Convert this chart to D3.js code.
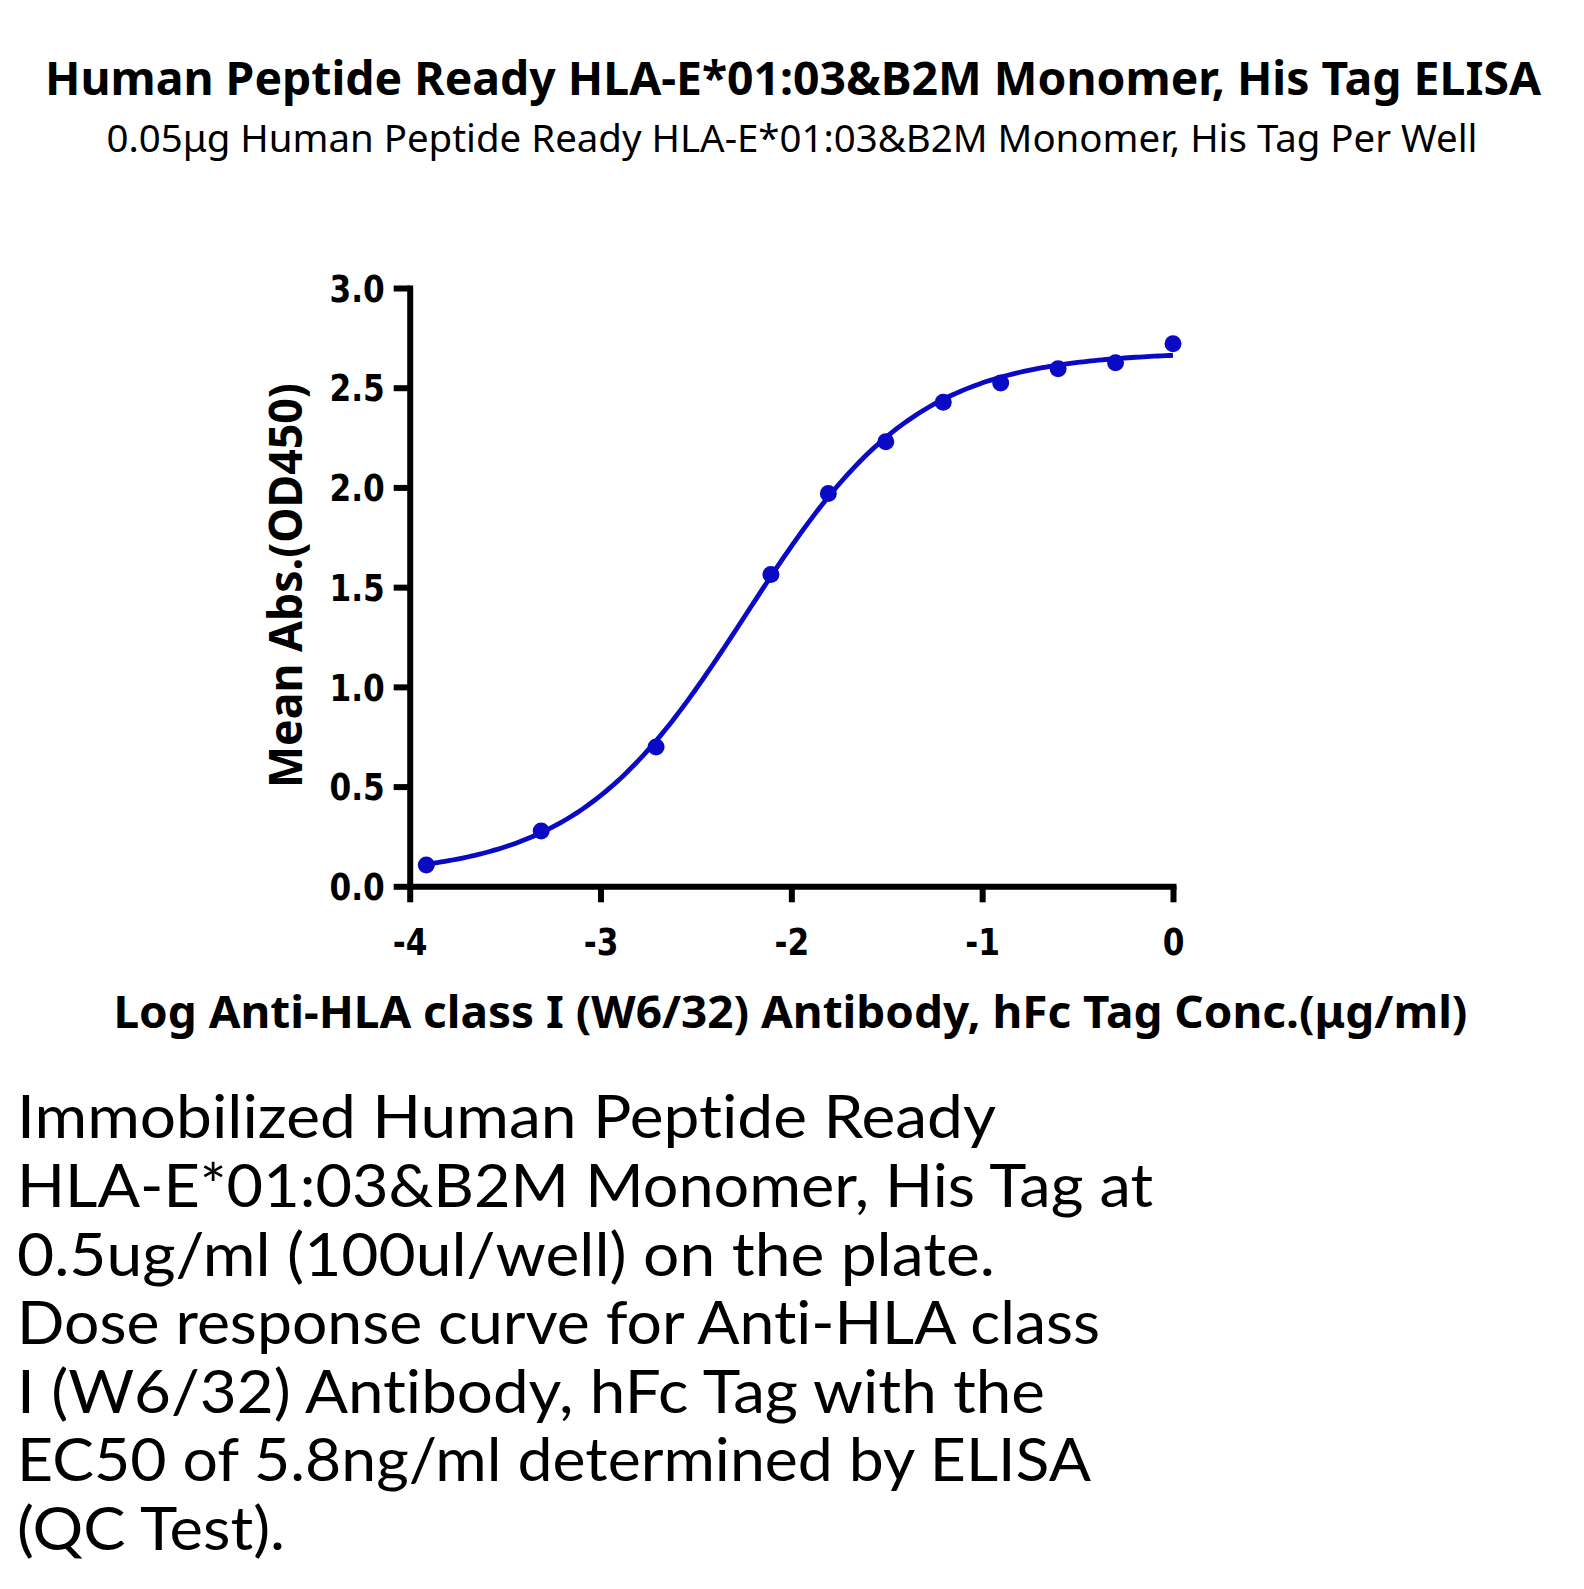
<!DOCTYPE html>
<html>
<head>
<meta charset="utf-8">
<script src="https://cdn.jsdelivr.net/npm/d3@7"></script>
<style>
  html, body { margin: 0; padding: 0; background: #fff; }
  svg { display: block; }
  text { font-variant-ligatures: none; font-feature-settings: "liga" 0, "clig" 0; }
</style>
</head>
<body>
<svg id="chart" width="1584" height="1589"></svg>
<script>
// ---- data ----
const logConc = [0, -0.301, -0.602, -0.903, -1.204, -1.505, -1.806, -2.107, -2.709, -3.311, -3.913];
const meanAbs = [2.720, 2.625, 2.595, 2.524, 2.427, 2.229, 1.970, 1.563, 0.699, 0.277, 0.107];
// 4PL fit parameters (EC50 = 5.8 ng/ml = 0.0058 µg/ml)
const fitTop = 2.68;
const fitBottom = 0.05;
const fitLogEC50 = Math.log10(0.0058);
const fitHill = 0.97;
const yTickValues = [0, 0.5, 1.0, 1.5, 2.0, 2.5, 3.0];
const xTickValues = [-4, -3, -2, -1, 0];
const titleText = "Human Peptide Ready HLA-E*01:03&B2M Monomer, His Tag ELISA";
const subtitleText = "0.05\u03bcg Human Peptide Ready HLA-E*01:03&B2M Monomer, His Tag Per Well";
const yAxisTitle = "Mean Abs.(OD450)";
const xAxisTitle = "Log Anti-HLA class I (W6/32) Antibody, hFc Tag Conc.(\u03bcg/ml)";
const noteLines = [
  "Immobilized Human Peptide Ready",
  "HLA-E*01:03&B2M Monomer, His Tag at",
  "0.5ug/ml (100ul/well) on the plate.",
  "Dose response curve for Anti-HLA class",
  "I (W6/32) Antibody, hFc Tag with the",
  "EC50 of 5.8ng/ml determined by ELISA",
  "(QC Test)."
];

// ---- layout (pixel sizes, not data) ----
const noteLineWidths = [979, 1136, 978, 1083, 1028, 1074, 268];
const blue = "#0a0ac4";
const svg = d3.select("#chart");
svg.append("rect").attr("width", 1584).attr("height", 1589).attr("fill", "#fff");

const x = d3.scaleLinear().domain([-4, 0]).range([409.7, 1173]);
const y = d3.scaleLinear().domain([0, 3]).range([886.3, 288]);

// titles
svg.append("text").text(titleText)
  .attr("x", 793).attr("y", 95).attr("text-anchor", "middle")
  .attr("font-family", "'Noto Sans', sans-serif").attr("font-weight", "bold")
  .attr("font-size", 46.5).attr("textLength", 1496).attr("lengthAdjust", "spacingAndGlyphs");
svg.append("text").text(subtitleText)
  .attr("x", 792).attr("y", 151.7).attr("text-anchor", "middle")
  .attr("font-family", "'Noto Sans', sans-serif")
  .attr("font-size", 37.5).attr("textLength", 1371).attr("lengthAdjust", "spacingAndGlyphs");

// axes
const tickFont = "'DejaVu Sans', sans-serif";
const gy = svg.append("g").attr("transform", `translate(${x(-4)},0)`)
  .call(d3.axisLeft(y).tickValues(yTickValues).tickFormat(d3.format(".1f")).tickSize(16).tickSizeOuter(0).tickPadding(9));
const gx = svg.append("g").attr("transform", `translate(0,${y(0)})`)
  .call(d3.axisBottom(x).tickValues(xTickValues).tickFormat(d => String(d)).tickSize(16).tickSizeOuter(0));

[gy, gx].forEach(g => {
  g.select(".domain").attr("stroke", "#000").attr("stroke-width", 6).attr("stroke-linecap", "square");
  g.selectAll(".tick line").attr("stroke", "#000").attr("stroke-width", 6);
  g.selectAll(".tick text").attr("fill", "#000").attr("font-family", tickFont)
    .attr("font-weight", "bold").attr("font-size", 36.5);
});
gy.selectAll(".tick text").attr("dy", "0.36em");
gx.selectAll(".tick text").attr("y", 68.7).attr("dy", 0);
[gy, gx].forEach(g => {
  g.selectAll(".tick text").each(function() {
    const w = this.getComputedTextLength();
    d3.select(this).attr("textLength", w * 0.855).attr("lengthAdjust", "spacingAndGlyphs");
  });
  g.attr("font-size", null).attr("font-family", null);
});

// axis titles
svg.append("text").text(yAxisTitle)
  .attr("transform", "translate(301.7,585.5) rotate(-90)").attr("text-anchor", "middle")
  .attr("font-family", "'Noto Sans', sans-serif").attr("font-weight", "bold")
  .attr("font-size", 46).attr("textLength", 405).attr("lengthAdjust", "spacingAndGlyphs");
svg.append("text").text(xAxisTitle)
  .attr("x", 790.4).attr("y", 1028.3).attr("text-anchor", "middle")
  .attr("font-family", "'Noto Sans', sans-serif").attr("font-weight", "bold")
  .attr("font-size", 44.5).attr("textLength", 1354).attr("lengthAdjust", "spacingAndGlyphs");

// fitted curve
const fourPL = v => fitBottom + (fitTop - fitBottom) / (1 + Math.pow(10, (fitLogEC50 - v) * fitHill));
const xMin = d3.min(logConc), xMax = d3.max(logConc);
const curvePts = d3.range(0, 201).map(i => xMin + (xMax - xMin) * i / 200);
svg.append("path")
  .datum(curvePts)
  .attr("fill", "none").attr("stroke", blue).attr("stroke-width", 4.8)
  .attr("d", d3.line().x(d => x(d)).y(d => y(fourPL(d))));

// data points
svg.append("g").selectAll("circle")
  .data(logConc.map((c, i) => ({ c, v: meanAbs[i] })))
  .join("circle")
  .attr("cx", d => x(d.c)).attr("cy", d => y(d.v)).attr("r", 8.5)
  .attr("fill", blue);

// note paragraph
const note = svg.append("g").attr("font-family", "Lato, 'Noto Sans', sans-serif")
  .attr("font-size", 60).attr("fill", "#000");
note.selectAll("text").data(noteLines).join("text")
  .attr("x", 17).attr("y", (d, i) => 1138.3 + i * 68.6)
  .attr("textLength", (d, i) => noteLineWidths[i]).attr("lengthAdjust", "spacingAndGlyphs")
  .text(d => d);
</script>
</body>
</html>
